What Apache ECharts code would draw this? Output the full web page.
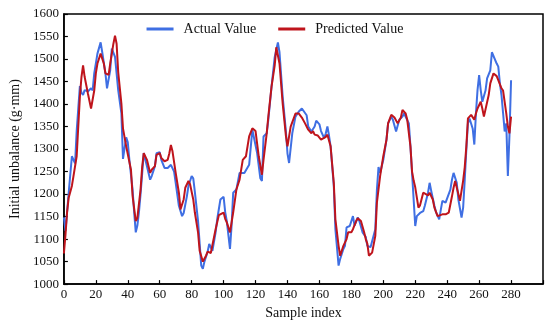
<!DOCTYPE html>
<html>
<head>
<meta charset="utf-8">
<script src="https://cdn.jsdelivr.net/npm/echarts@6/dist/echarts.min.js"></script>
<style>html,body{margin:0;padding:0;background:#fff}#c{width:550px;height:325px}</style>
</head>
<body>
<div id="c"></div>
<script>
const actualIdx = [0,1,3,5,6,7,8,10,11,12,13,15,17,18,19,21,23,24,26,27,29,30,32,33,34,36,37,39,40,41,43,44,45,46,47,48,49,50,52,54,55,57,58,60,61,63,65,67,69,70,72,74,75,77,78,80,81,82,84,86,87,88,90,91,93,95,96,98,100,101,102,104,105,106,108,110,113,116,118,119,121,123,124,125,127,128,130,132,134,135,137,139,140,141,143,145,147,149,150,152,153,155,157,158,160,161,163,164,165,166,167,169,170,172,173,175,176,177,179,181,182,184,185,187,189,190,192,193,195,196,197,198,200,202,203,205,206,208,210,212,213,214,216,217,218,219,220,221,223,225,226,228,229,230,232,233,235,236,237,239,240,242,243,244,246,247,249,250,251,252,253,254,256,257,258,259,260,261,262,264,265,267,268,269,271,272,273,274,275,276,277,278,279,280];
const actualVal = [1148,1118,1203,1284,1276,1268,1340,1440,1425,1420,1431,1428,1435,1430,1468,1512,1537,1515,1468,1435,1475,1523,1505,1468,1431,1379,1278,1326,1315,1276,1210,1159,1115,1130,1160,1200,1245,1291,1262,1232,1240,1262,1291,1293,1276,1258,1258,1265,1250,1225,1174,1151,1158,1195,1218,1240,1235,1205,1140,1041,1034,1050,1072,1089,1074,1115,1144,1188,1194,1160,1140,1078,1130,1203,1210,1247,1247,1265,1343,1346,1291,1235,1229,1328,1335,1365,1438,1504,1537,1515,1416,1340,1290,1269,1335,1372,1383,1390,1393,1375,1350,1339,1350,1363,1355,1340,1324,1335,1350,1330,1306,1218,1122,1041,1056,1078,1085,1126,1129,1151,1130,1148,1140,1115,1105,1085,1082,1082,1122,1210,1260,1247,1276,1321,1357,1372,1365,1339,1365,1372,1379,1379,1357,1306,1247,1188,1129,1151,1158,1162,1174,1203,1225,1207,1174,1160,1144,1165,1185,1181,1177,1210,1232,1247,1225,1188,1148,1170,1232,1299,1357,1368,1345,1310,1379,1431,1464,1431,1405,1430,1457,1475,1515,1512,1490,1483,1446,1420,1380,1339,1357,1240,1330,1453];
const predIdx = [0,1,2,3,5,6,8,10,11,12,13,15,17,19,20,21,23,25,26,28,29,31,32,33,34,36,37,39,40,42,43,45,46,48,49,50,52,54,55,57,58,60,61,63,65,66,67,68,70,72,73,75,76,78,79,81,82,84,85,87,89,90,92,93,95,97,98,100,101,102,104,106,108,110,112,114,116,118,120,122,124,125,127,128,130,132,133,135,137,139,140,142,145,147,149,151,153,155,156,157,159,161,162,164,165,166,167,169,170,172,173,175,177,178,180,181,183,184,186,188,189,190,191,192,193,195,196,198,200,202,203,205,207,209,211,212,214,215,217,218,219,220,222,223,225,226,228,229,231,232,234,235,237,239,241,243,244,245,247,248,250,251,252,253,254,255,257,258,259,261,262,263,264,266,267,269,270,271,272,274,275,277,278,279,280];
const predVal = [1068,1110,1160,1192,1218,1240,1284,1416,1460,1486,1460,1424,1390,1430,1468,1490,1512,1490,1468,1465,1490,1534,1552,1534,1471,1401,1346,1306,1306,1254,1196,1140,1147,1210,1260,1291,1276,1247,1254,1262,1287,1291,1280,1273,1276,1290,1309,1295,1247,1203,1166,1188,1214,1229,1222,1188,1159,1115,1074,1050,1063,1072,1069,1065,1122,1153,1150,1159,1145,1137,1115,1159,1210,1232,1276,1284,1328,1346,1340,1284,1243,1276,1335,1372,1438,1486,1526,1490,1401,1330,1306,1350,1379,1379,1370,1357,1343,1335,1340,1332,1330,1321,1321,1327,1332,1335,1306,1225,1144,1085,1063,1085,1100,1115,1115,1122,1140,1146,1140,1115,1100,1090,1063,1060,1070,1107,1181,1240,1284,1321,1357,1376,1370,1357,1370,1387,1379,1365,1306,1250,1230,1215,1170,1175,1203,1200,1197,1203,1188,1170,1151,1151,1155,1155,1159,1195,1214,1229,1200,1185,1230,1260,1306,1368,1365,1376,1365,1379,1390,1405,1390,1372,1375,1420,1446,1468,1471,1462,1453,1435,1430,1379,1350,1335,1372];
const xTicks = [0,20,40,60,80,100,120,140,160,180,200,220,240,260,280];
const yTicks = [1000,1050,1100,1150,1200,1250,1300,1350,1400,1450,1500,1550,1600];

const pair = (xs, ys) => xs.map((x, i) => [x, ys[i]]);
const font = '"Liberation Serif", "Times New Roman", serif';
const chart = echarts.init(document.getElementById('c'), null, {renderer: 'canvas'});
chart.setOption({
  animation: false,
  textStyle: {fontFamily: font},
  grid: {left: 57.6, right: 7, top: 14, bottom: 39, show: true, borderColor: '#000', borderWidth: 1.5, backgroundColor: 'transparent'},
  legend: {
    top: 17, left: 'center',
    icon: 'rect', itemWidth: 27, itemHeight: 3, itemGap: 22,
    textStyle: {fontFamily: font, fontSize: 14, color: '#111', padding: [0, 0, 0, 5]},
    data: ['Actual Value', 'Predicted Value']
  },
  xAxis: {
    type: 'value', min: 0, max: 300, interval: 20,
    name: 'Sample index', nameLocation: 'middle', nameGap: 19,
    nameTextStyle: {fontFamily: font, fontSize: 14, color: '#111'},
    axisLine: {show: true, lineStyle: {color: '#000', width: 1.5}},
    axisTick: {show: true, inside: true, length: 4, lineStyle: {color: '#000', width: 1.2}},
    axisLabel: {color: '#111', fontFamily: font, fontSize: 13, margin: 4,
      formatter: v => xTicks.includes(v) ? String(v) : ''},
    splitLine: {show: false}
  },
  yAxis: {
    type: 'value', min: 1000, max: 1600, interval: 50,
    name: 'Initial unbalance (g·mm)', nameLocation: 'middle', nameGap: 38,
    nameTextStyle: {fontFamily: font, fontSize: 14, color: '#111'},
    axisLine: {show: true, lineStyle: {color: '#000', width: 1.5}},
    axisTick: {show: true, inside: true, length: 4, lineStyle: {color: '#000', width: 1.2}},
    axisLabel: {color: '#111', fontFamily: font, fontSize: 13, margin: 5,
      formatter: v => yTicks.includes(v) ? String(v) : ''},
    splitLine: {show: false}
  },
  series: [
    {name: 'Actual Value', type: 'line', data: pair(actualIdx, actualVal), symbol: 'none',
     lineStyle: {color: '#3f6fe3', width: 2}, itemStyle: {color: '#3f6fe3'}},
    {name: 'Predicted Value', type: 'line', data: pair(predIdx, predVal), symbol: 'none',
     lineStyle: {color: '#bf141c', width: 2}, itemStyle: {color: '#bf141c'}}
  ]
});
</script>
</body>
</html>
